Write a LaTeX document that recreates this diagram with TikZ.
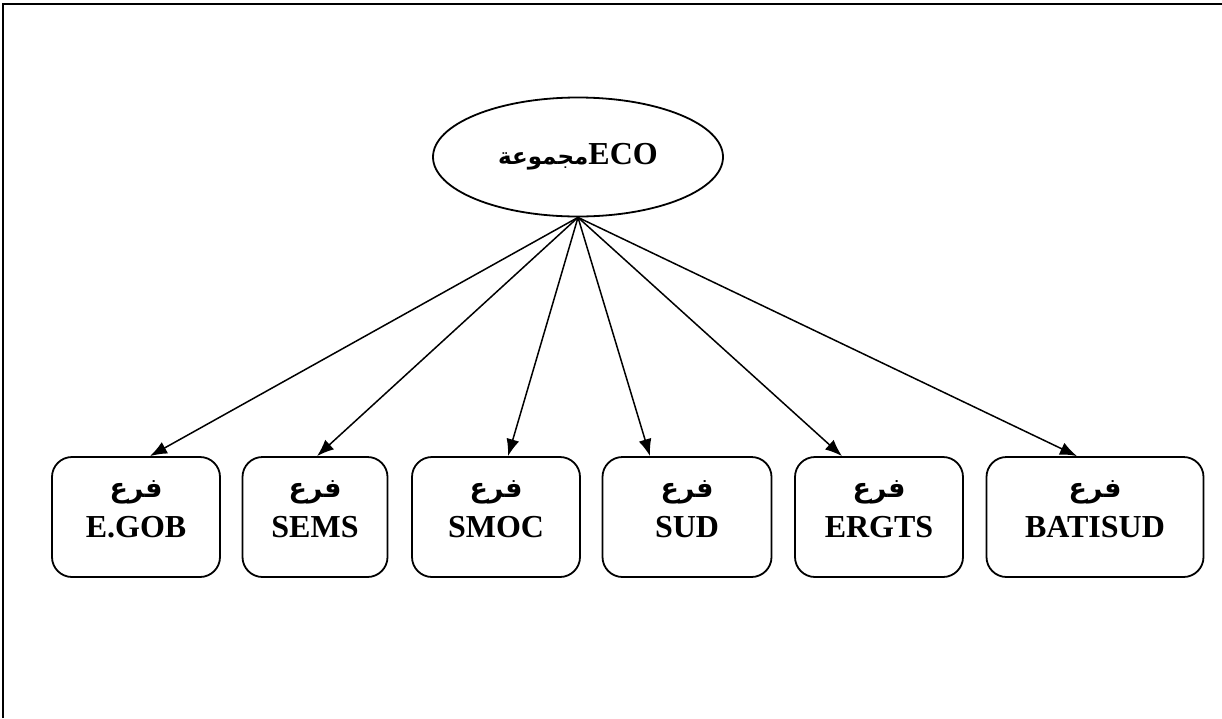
\documentclass[tikz,border=0pt]{standalone}
\usepackage{fontspec}
\setmainfont{Liberation Serif}
\newfontfamily\arabicfont[Script=Arabic]{DejaVu Sans}
\TeXXeTstate=1
\usetikzlibrary{arrows.meta,shapes.geometric,positioning}

\newcommand{\ar}[2][27]{{\arabicfont\fontsize{#1}{30}\selectfont\beginR #2\endR}}

\begin{document}
\begin{tikzpicture}[x=1pt,y=-1pt,line width=1.8pt]
  \tikzstyle{every node}=[font=\bfseries\fontsize{32}{40}\selectfont]
  \tikzstyle{branch}=[draw,rounded corners=20pt,minimum height=120pt,inner sep=0pt]
  \tikzstyle{tag}=[align=center,yshift=8pt]
  \tikzstyle{link}=[-{Latex[length=17pt,width=13pt]},line width=1.5pt]

  \useasboundingbox (0,0) rectangle (1222,718);
  \draw[line width=2.2pt] (3,718) -- (3,4) -- (1222,4);

  \node[draw,ellipse,minimum width=290pt,minimum height=119pt,inner sep=0pt]
    (eco) at (578,157) {\raisebox{4pt}{\ar[23]{مجموعة}ECO}};

  \node[branch,minimum width=168pt] (egob)    at (136,517)  {};
  \node[branch,minimum width=145pt] (sems)    at (315,517)  {};
  \node[branch,minimum width=168pt] (smoc)    at (496,517)  {};
  \node[branch,minimum width=169pt] (sud)     at (687,517)  {};
  \node[branch,minimum width=168pt] (ergts)   at (879,517)  {};
  \node[branch,minimum width=217pt] (batisud) at (1095,517) {};

  \node[tag] (egob-t)    at (egob)    {\ar{فرع}\\E.GOB};
  \node[tag] (sems-t)    at (sems)    {\ar{فرع}\\SEMS};
  \node[tag] (smoc-t)    at (smoc)    {\ar{فرع}\\SMOC};
  \node[tag] (sud-t)     at (sud)     {\ar{فرع}\\SUD};
  \node[tag] (ergts-t)   at (ergts)   {\ar{فرع}\\ERGTS};
  \node[tag] (batisud-t) at (batisud) {\ar{فرع}\\BATISUD};

  \path[link]
  (eco.south) edge ([xshift=14pt]egob.north)
              edge ([xshift=2pt]sems.north)
              edge ([xshift=12pt]smoc.north)
              edge ([xshift=-37pt]sud.north)
              edge ([xshift=-37pt]ergts.north)
              edge ([xshift=-18pt]batisud.north);
\end{tikzpicture}
\end{document}
